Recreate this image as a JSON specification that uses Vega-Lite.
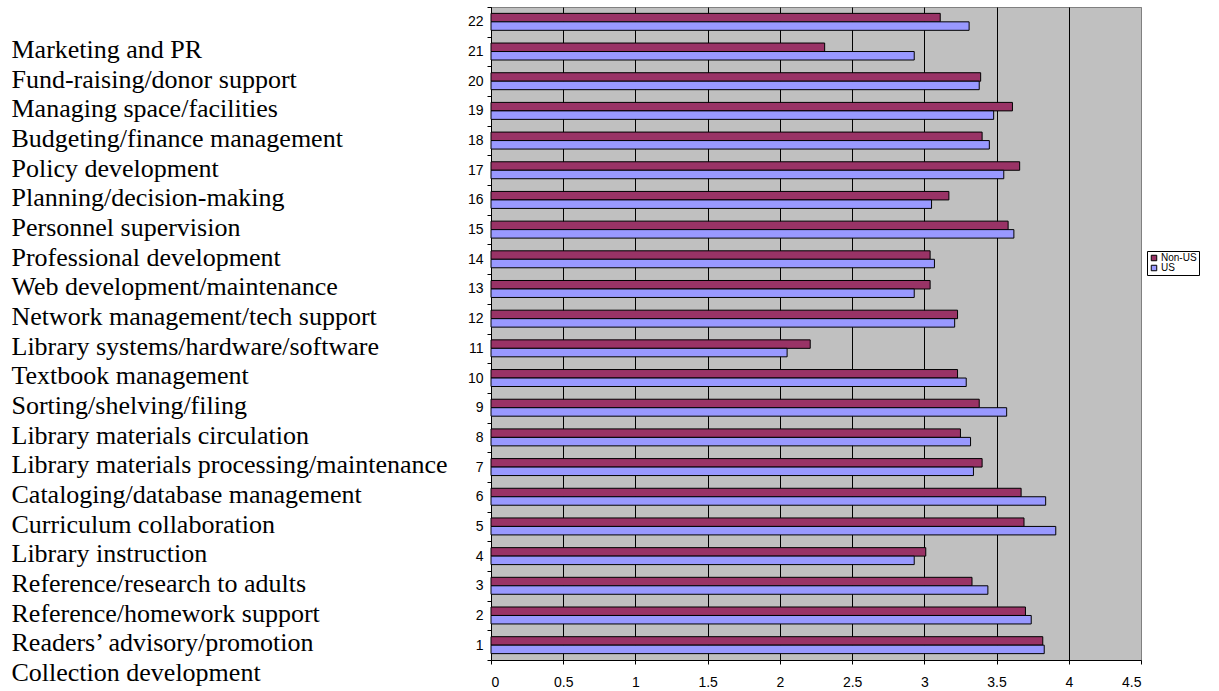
{
  "$schema": "https://vega.github.io/schema/vega-lite/v6.json",
  "width": 650,
  "height": 653,
  "autosize": "none",
  "padding": {"left": 491, "top": 7, "right": 78, "bottom": 31},
  "background": "white",
  "config": {
    "view": {"fill": "#C0C0C0", "stroke": "#808080", "strokeWidth": 1},
    "font": "Liberation Sans Narrow, Liberation Sans, Arial, sans-serif"
  },
  "data": {
    "values": [
      {"item": 1, "task": "Collection development", "region": "Non-US", "score": 3.82},
      {"item": 1, "task": "Collection development", "region": "US", "score": 3.83},
      {"item": 2, "task": "Readers’ advisory/promotion", "region": "Non-US", "score": 3.70},
      {"item": 2, "task": "Readers’ advisory/promotion", "region": "US", "score": 3.74},
      {"item": 3, "task": "Reference/homework support", "region": "Non-US", "score": 3.33},
      {"item": 3, "task": "Reference/homework support", "region": "US", "score": 3.44},
      {"item": 4, "task": "Reference/research to adults", "region": "Non-US", "score": 3.01},
      {"item": 4, "task": "Reference/research to adults", "region": "US", "score": 2.93},
      {"item": 5, "task": "Library instruction", "region": "Non-US", "score": 3.69},
      {"item": 5, "task": "Library instruction", "region": "US", "score": 3.91},
      {"item": 6, "task": "Curriculum collaboration", "region": "Non-US", "score": 3.67},
      {"item": 6, "task": "Curriculum collaboration", "region": "US", "score": 3.84},
      {"item": 7, "task": "Cataloging/database management", "region": "Non-US", "score": 3.40},
      {"item": 7, "task": "Cataloging/database management", "region": "US", "score": 3.34},
      {"item": 8, "task": "Library materials processing/maintenance", "region": "Non-US", "score": 3.25},
      {"item": 8, "task": "Library materials processing/maintenance", "region": "US", "score": 3.32},
      {"item": 9, "task": "Library materials circulation", "region": "Non-US", "score": 3.38},
      {"item": 9, "task": "Library materials circulation", "region": "US", "score": 3.57},
      {"item": 10, "task": "Sorting/shelving/filing", "region": "Non-US", "score": 3.23},
      {"item": 10, "task": "Sorting/shelving/filing", "region": "US", "score": 3.29},
      {"item": 11, "task": "Textbook management", "region": "Non-US", "score": 2.21},
      {"item": 11, "task": "Textbook management", "region": "US", "score": 2.05},
      {"item": 12, "task": "Library systems/hardware/software", "region": "Non-US", "score": 3.23},
      {"item": 12, "task": "Library systems/hardware/software", "region": "US", "score": 3.21},
      {"item": 13, "task": "Network management/tech support", "region": "Non-US", "score": 3.04},
      {"item": 13, "task": "Network management/tech support", "region": "US", "score": 2.93},
      {"item": 14, "task": "Web development/maintenance", "region": "Non-US", "score": 3.04},
      {"item": 14, "task": "Web development/maintenance", "region": "US", "score": 3.07},
      {"item": 15, "task": "Professional development", "region": "Non-US", "score": 3.58},
      {"item": 15, "task": "Professional development", "region": "US", "score": 3.62},
      {"item": 16, "task": "Personnel supervision", "region": "Non-US", "score": 3.17},
      {"item": 16, "task": "Personnel supervision", "region": "US", "score": 3.05},
      {"item": 17, "task": "Planning/decision-making", "region": "Non-US", "score": 3.66},
      {"item": 17, "task": "Planning/decision-making", "region": "US", "score": 3.55},
      {"item": 18, "task": "Policy development", "region": "Non-US", "score": 3.40},
      {"item": 18, "task": "Policy development", "region": "US", "score": 3.45},
      {"item": 19, "task": "Budgeting/finance management", "region": "Non-US", "score": 3.61},
      {"item": 19, "task": "Budgeting/finance management", "region": "US", "score": 3.48},
      {"item": 20, "task": "Managing space/facilities", "region": "Non-US", "score": 3.39},
      {"item": 20, "task": "Managing space/facilities", "region": "US", "score": 3.38},
      {"item": 21, "task": "Fund-raising/donor support", "region": "Non-US", "score": 2.31},
      {"item": 21, "task": "Fund-raising/donor support", "region": "US", "score": 2.93},
      {"item": 22, "task": "Marketing and PR", "region": "Non-US", "score": 3.11},
      {"item": 22, "task": "Marketing and PR", "region": "US", "score": 3.31}
    ]
  },
  "encoding": {
    "x": {
      "field": "score",
      "type": "quantitative",
      "scale": {"domain": [0, 4.5], "nice": false, "zero": true},
      "axis": {
        "title": null,
        "values": [0, 0.5, 1, 1.5, 2, 2.5, 3, 3.5, 4, 4.5],
        "format": ".1~f",
        "grid": true,
        "gridColor": {"condition": {"test": "datum.value >= 4.5", "value": "#808080"}, "value": "#000000"},
        "gridWidth": 1,
        "gridOpacity": 1,
        "tickSize": 4,
        "tickColor": "#000000",
        "domainColor": "#000000",
        "labelColor": "#000000",
        "labelFontSize": 14,
        "labelPadding": 11
      }
    },
    "yOffset": {
      "field": "region",
      "type": "nominal",
      "scale": {"domain": ["Non-US", "US"], "paddingInner": 0, "paddingOuter": 0.75}
    },
    "color": {
      "field": "region",
      "type": "nominal",
      "scale": {"domain": ["Non-US", "US"], "range": ["#993366", "#9999FF"]},
      "legend": {
        "title": null,
        "orient": "none",
        "legendX": 656,
        "legendY": 244,
        "strokeColor": "#000000",
        "fillColor": "white",
        "padding": 2,
        "symbolType": "square",
        "symbolSize": 30,
        "symbolStrokeColor": "#000000",
        "symbolStrokeWidth": 1,
        "symbolOpacity": 1,
        "labelFontSize": 10,
        "labelColor": "#000000",
        "labelOffset": 2,
        "rowPadding": 0
      }
    }
  },
  "layer": [
    {
      "transform": [{"filter": "datum.region == 'Non-US'"}],
      "mark": {"type": "bar", "stroke": "#000000", "strokeWidth": 1, "opacity": 1},
      "encoding": {
        "y": {
          "field": "item",
          "type": "ordinal",
          "sort": "descending",
          "scale": {"paddingInner": 0, "paddingOuter": 0},
          "axis": {
            "title": null,
            "orient": "left",
            "tickBand": "extent",
            "tickSize": 4,
            "tickColor": "#000000",
            "domainColor": "#000000",
            "labelColor": "#000000",
            "labelFontSize": 14,
            "labelPadding": 4,
            "grid": false
          }
        }
      }
    },
    {
      "transform": [{"filter": "datum.region == 'US'"}],
      "mark": {"type": "bar", "stroke": "#000000", "strokeWidth": 1, "opacity": 1},
      "encoding": {
        "y": {
          "field": "task",
          "type": "nominal",
          "sort": {"field": "item", "op": "max", "order": "descending"},
          "scale": {"paddingInner": 0, "paddingOuter": 0},
          "axis": {
            "title": null,
            "orient": "left",
            "offset": 480,
            "ticks": false,
            "tickSize": 0,
            "domain": false,
            "grid": false,
            "labelAlign": "left",
            "labelPadding": 0,
            "labelOffset": 28,
            "labelFont": "Liberation Serif, Times New Roman, serif",
            "labelFontSize": 26,
            "labelColor": "#000000",
            "labelLimit": 1000,
            "labelOverlap": false,
            "labelBound": false
          }
        }
      }
    }
  ],
  "resolve": {"scale": {"y": "independent", "yOffset": "independent"}}
}
